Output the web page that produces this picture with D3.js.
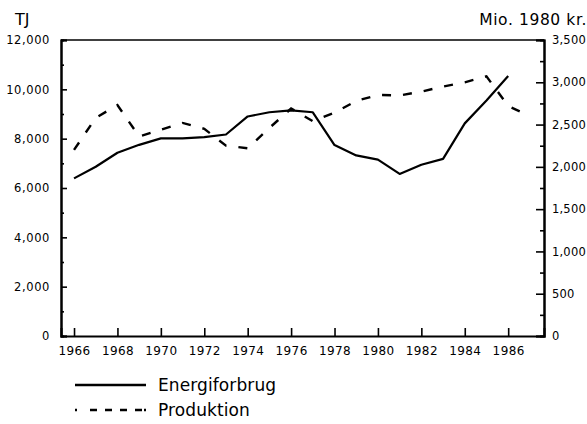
<!DOCTYPE html>
<html>
<head>
<meta charset="utf-8">
<script src="https://cdn.jsdelivr.net/npm/d3@7"></script>
<style>
  body { margin: 0; background: #fff; }
  svg { display: block; font-family: 'DejaVu Sans', sans-serif; }
</style>
</head>
<body>
<div id="chart"></div>
<script>
// Values
const years       = [1966, 1967, 1968, 1969, 1970, 1971, 1972, 1973, 1974, 1975, 1976,
                     1977, 1978, 1979, 1980, 1981, 1982, 1983, 1984, 1985, 1986, 1987];
const energi      = [6390, 6860, 7430, 7750, 8010, 8010, 8060, 8170, 8900, 9070, 9150,
                     9070, 7740, 7320, 7150, 6570, 6940, 7180, 8620, 9550, 10540];
const produktion  = [2200, 2580, 2730, 2360, 2440, 2520, 2450, 2250, 2220, 2460, 2690,
                     2540, 2640, 2780, 2850, 2845, 2890, 2950, 3000, 3070, 2720, 2600];
const yearTicks   = [1966, 1968, 1970, 1972, 1974, 1976, 1978, 1980, 1982, 1984, 1986];
const leftTicks   = [0, 2000, 4000, 6000, 8000, 10000, 12000];
const rightTicks  = [0, 500, 1000, 1500, 2000, 2500, 3000, 3500];
const legendItems = [
  { label: 'Energiforbrug', dash: null },
  { label: 'Produktion',    dash: '2,13,7,8,7,8,7,8,7' }
];

const W = 587, H = 424;
const margin = { top: 40, right: 43, bottom: 88, left: 61 };
const w = W - margin.left - margin.right;
const h = H - margin.top - margin.bottom;

const svg = d3.select('#chart').append('svg')
  .attr('width', W).attr('height', H);

const g = svg.append('g')
  .attr('transform', `translate(${margin.left},${margin.top})`);

/* ── Scales ───────────────────────────────────────────── */
const x  = d3.scaleLinear().domain([1965.4, 1987.65]).range([0, w]);
const yL = d3.scaleLinear().domain([0, 12000]).range([h, 0]);
const yR = d3.scaleLinear().domain([0, 3500]).range([h, 0]);

const fmt = d3.format(',');

/* ── Minor ticks ──────────────────────────────────────── */
g.append('g')
  .call(d3.axisRight(yL).tickValues(d3.range(1000, 12000, 2000)).tickSize(3).tickFormat(''))
  .call(styleAxis);
g.append('g')
  .attr('transform', `translate(${w},0)`)
  .call(d3.axisLeft(yR).tickValues(d3.range(250, 3500, 500)).tickSize(4).tickFormat(''))
  .call(styleAxis);

/* ── Axes ─────────────────────────────────────────────── */
const left = g.append('g')
  .call(d3.axisLeft(yL).tickValues(leftTicks).tickSize(-6).tickPadding(11).tickFormat(fmt))
  .call(styleAxis);
left.selectAll('text').attr('font-size', '11.5px').attr('letter-spacing', '0.6px');

const right = g.append('g')
  .attr('transform', `translate(${w},0)`)
  .call(d3.axisRight(yR).tickValues(rightTicks).tickSize(-8).tickPadding(8).tickFormat(fmt))
  .call(styleAxis);
right.selectAll('text').attr('font-size', '11.5px').attr('letter-spacing', '0.2px');

const bottom = g.append('g')
  .attr('transform', `translate(0,${h})`)
  .call(d3.axisBottom(x).tickValues(yearTicks).tickSize(-8).tickPadding(10).tickFormat(d3.format('d')))
  .call(styleAxis);
bottom.selectAll('text').attr('font-size', '12px').attr('letter-spacing', '0.4px');

// top frame line
g.append('line')
  .attr('x1', 0).attr('x2', w).attr('y1', 0).attr('y2', 0)
  .attr('stroke', '#000').attr('stroke-width', 1.5);

/* ── Series ───────────────────────────────────────────── */
const lineL = d3.line().x((d, i) => x(years[i])).y(d => yL(d));
const lineR = d3.line().x((d, i) => x(years[i])).y(d => yR(d));

g.append('path').datum(energi)
  .attr('d', lineL)
  .attr('fill', 'none').attr('stroke', '#000')
  .attr('stroke-width', 2.2).attr('stroke-linejoin', 'round');

g.append('path').datum(produktion)
  .attr('d', lineR)
  .attr('fill', 'none').attr('stroke', '#000')
  .attr('stroke-width', 2.4).attr('stroke-dasharray', '9,12');

/* ── Unit labels ──────────────────────────────────────── */
svg.append('text')
  .attr('x', 15).attr('y', 25)
  .attr('font-size', '16px').text('TJ');

svg.append('text')
  .attr('x', 587).attr('y', 25)
  .attr('text-anchor', 'end')
  .attr('font-size', '15.5px').attr('letter-spacing', '0.6px')
  .text('Mio. 1980 kr.');

/* ── Legend ───────────────────────────────────────────── */
const legend = svg.selectAll('.legend').data(legendItems).enter()
  .append('g').attr('class', 'legend')
  .attr('transform', (d, i) => `translate(75,${385 + i * 25})`);

legend.append('line')
  .attr('x1', 0).attr('x2', 71)
  .attr('stroke', '#000').attr('stroke-width', 2.6)
  .attr('stroke-dasharray', d => d.dash);

legend.append('text')
  .attr('x', 83).attr('y', 6)
  .attr('font-size', '17px').attr('letter-spacing', '0.1px')
  .text(d => d.label);

function styleAxis(sel) {
  sel.select('.domain').attr('stroke', '#000').attr('stroke-width', 2);
  sel.selectAll('line').attr('stroke', '#000').attr('stroke-width', 1.6);
  sel.selectAll('text').attr('fill', '#000').attr('font-family', "'DejaVu Sans', sans-serif");
}
</script>
</body>
</html>
